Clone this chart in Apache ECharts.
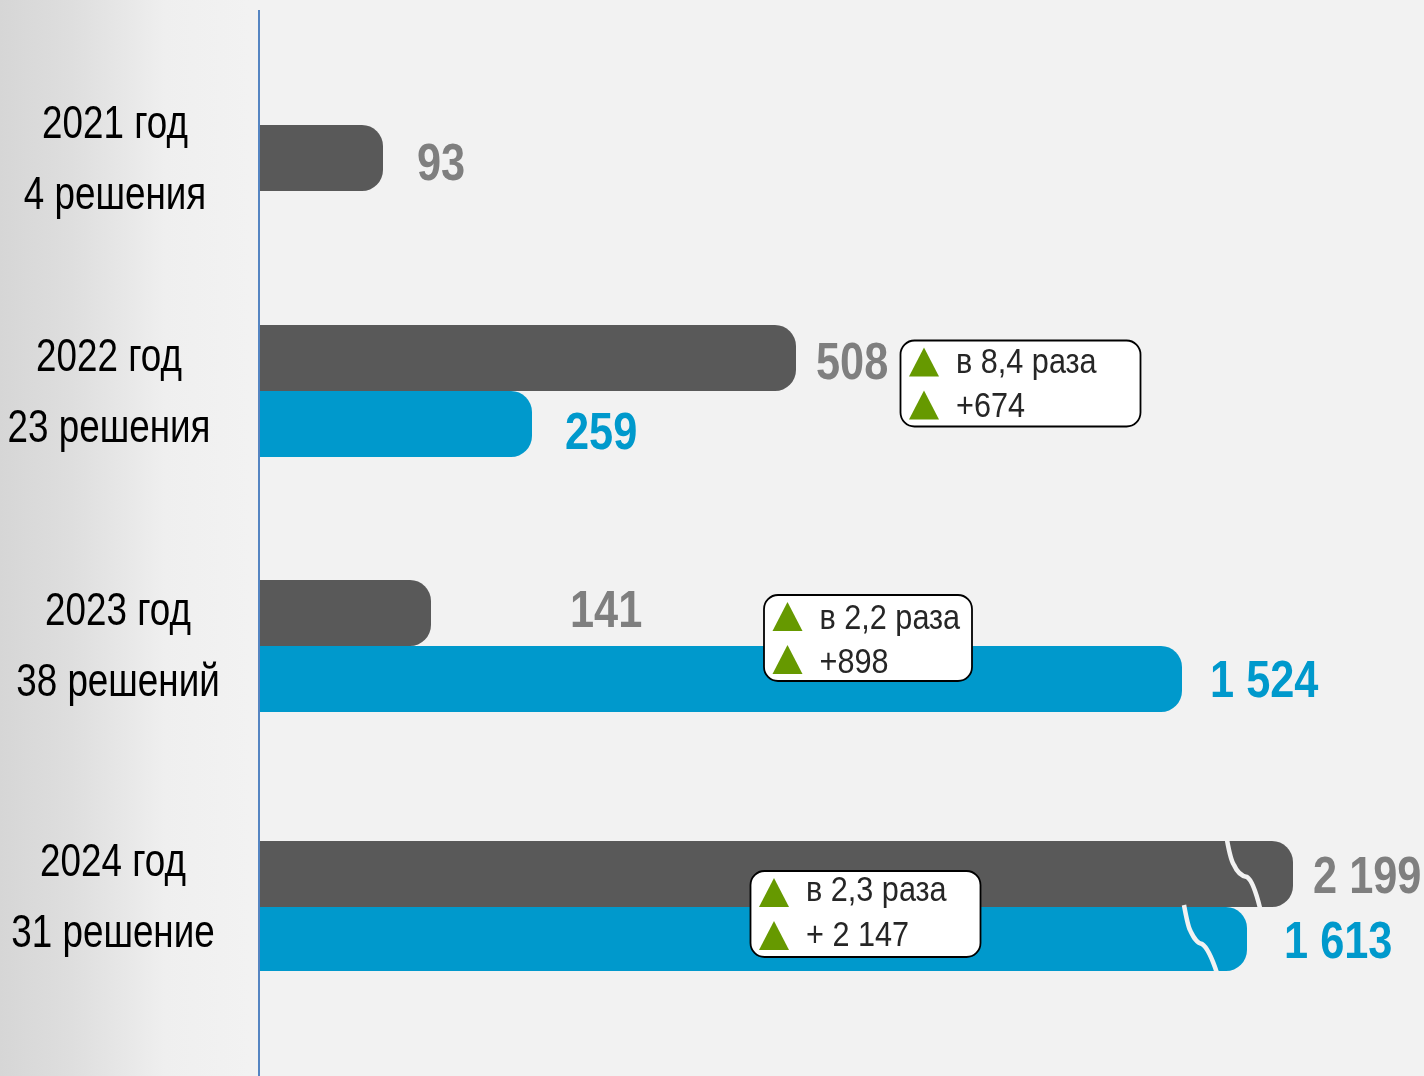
<!DOCTYPE html>
<html><head><meta charset="utf-8">
<style>html,body{margin:0;padding:0;background:#f2f2f2}#c{width:1424px;height:1076px}</style>
<script src="https://cdn.jsdelivr.net/npm/echarts@6/dist/echarts.min.js"></script>
</head><body><div id="c"></div>
<script>
// ---- data ----
const years = ['2021 год', '2022 год', '2023 год', '2024 год'];
const decisions = ['4 решения', '23 решения', '38 решений', '31 решение'];
// printed values
const grayLabels = ['93', '508', '141', '2 199'];
const blueLabels = [null, '259', '1 524', '1 613'];
// the source bars are not drawn to scale, so lengths are read from the picture
const grayLengths = [124, 537, 172, 1034];
const blueLengths = [null, 273, 923, 988];
const calloutRatio = [null, 'в 8,4 раза', 'в 2,2 раза', 'в 2,3 раза'];
const calloutDelta = [null, '+674', '+898', '+ 2 147'];

// ---- layout and style ----
const FONT = '"Liberation Sans",Arial,sans-serif';
const GRAY = '#595959', BLUE = '#0099cc', GRAYTXT = '#7f7f7f', GREEN = '#669900', BG = '#f2f2f2';
const AXIS_X = 259, AXIS_W = 1160;
const rows = [
  {top: 125, height: 66, barH: [66], cx: 115, dy: 3},
  {top: 325, height: 132, barH: [66, 66], cx: 109, dy: 3},
  {top: 580, height: 132, barH: [66, 66], cx: 118, dy: 2},
  {top: 841, height: 130, barH: [66, 64], cx: 113, dy: -7}
];
// value label anchor relative to (bar end, row centre)
const grayShift = [[34, 8], [20, -26], [139, -33], [20, -27]];
const blueShift = [null, [33, 44], [28, 37], [37, 38]];
const boxes = [null,
  {x: 900.5, y: 340.5, w: 240, h: 86, td: [2, 3]},
  {x: 764, y: 595, w: 208, h: 86, td: [3, 4]},
  {x: 750.5, y: 871, w: 230, h: 86, td: [-1, 1]}];
// wave-shaped "bar is cut" marks, relative to the row centre
const waveGray = {at: 970, d: 'M-2,-66 C0,-55 2,-45 5,-41 C8,-34 12,-30 18,-29 C23,-26 28,-10 31,2'};
const waveBlue = {at: 927, d: 'M-2,-1 C0,10 2,20 4,24 C7,30 10,37 16,38 C21,41 27,55 31,67'};

const grid = [], xAxis = [], yAxis = [], series = [];

const textSeries = (i, len, fn) => ({
  type: 'custom', xAxisIndex: i, yAxisIndex: i, silent: true, z: 6,
  data: [[len, 0]], encode: {x: 0, y: 1},
  renderItem: (p, api) => fn(api.coord([api.value(0), 0]))
});

rows.forEach((r, i) => {
  grid.push({left: AXIS_X, top: r.top, width: AXIS_W, height: r.height, outerBoundsMode: 'none', containLabel: false});
  xAxis.push({type: 'value', gridIndex: i, min: 0, max: AXIS_W, show: false});
  yAxis.push({
    type: 'category', gridIndex: i, data: [years[i]], inverse: true,
    axisLine: {show: false}, axisTick: {show: false}, axisLabel: {show: false}
  });
  const bar = (name, len, color, h) => ({
    type: 'bar', name, xAxisIndex: i, yAxisIndex: i, barWidth: h, barGap: 0, silent: true,
    data: [{value: len, itemStyle: {color, borderRadius: [0, 21, 21, 0]}}]
  });
  const valueText = (len, txt, color, shift) => textSeries(i, len, c => ({
    type: 'text', x: c[0] + shift[0], y: c[1] + shift[1], scaleX: 0.85,
    style: {text: txt, fontFamily: FONT, fontSize: 51, fontWeight: 'bold', fill: color, align: 'left', verticalAlign: 'middle'}
  }));
  series.push(bar('gray', grayLengths[i], GRAY, r.barH[0]));
  series.push(valueText(grayLengths[i], grayLabels[i], GRAYTXT, grayShift[i]));
  if (blueLengths[i] !== null) {
    series.push(bar('blue', blueLengths[i], BLUE, r.barH[1]));
    series.push(valueText(blueLengths[i], blueLabels[i], BLUE, blueShift[i]));
  }
  // category caption, two lines, left of the axis
  series.push(textSeries(i, 0, c => ({
    type: 'text', x: r.cx, y: c[1] + r.dy, scaleX: 0.8,
    style: {text: years[i] + '\n' + decisions[i], fontFamily: FONT, fontSize: 46, lineHeight: 71,
      fill: '#000', align: 'center', verticalAlign: 'middle'}
  })));
});

// break marks on the two longest bars, placed through the axis scale
[waveGray, waveBlue].forEach(w => series.push({
  type: 'custom', xAxisIndex: 3, yAxisIndex: 3, silent: true, z: 5,
  data: [[w.at, 0]], encode: {x: 0, y: 1},
  renderItem: (p, api) => {
    const c = api.coord([api.value(0), 0]);
    return {
      type: 'path', x: c[0], y: c[1],
      shape: {pathData: w.d},
      style: {fill: null, stroke: BG, lineWidth: 4.5}
    };
  }
}));

const graphic = [{
  type: 'line', z: 50, shape: {x1: 259, y1: 10, x2: 259, y2: 1076},
  style: {stroke: '#5585c2', lineWidth: 2}
}];
boxes.forEach((b, i) => {
  if (!b) return;
  graphic.push({type: 'rect', z: 60, shape: {x: b.x, y: b.y, width: b.w, height: b.h, r: 14},
    style: {fill: '#fff', stroke: '#000', lineWidth: 1.8}});
  [[7, calloutRatio[i], b.td[0]], [50, calloutDelta[i], b.td[1]]].forEach(([dy, t, td]) => {
    graphic.push({type: 'polygon', z: 61, shape: {points: [
      [b.x + 8.5, b.y + dy + 29], [b.x + 23.5, b.y + dy], [b.x + 38.5, b.y + dy + 29]]},
      style: {fill: GREEN}});
    graphic.push({type: 'text', z: 62, x: b.x + 55.5, y: b.y + dy + 14 + td, scaleX: 0.875,
      style: {text: t, fontFamily: FONT, fontSize: 35, fill: '#262626', verticalAlign: 'middle', align: 'left'}});
  });
});

const chart = echarts.init(document.getElementById('c'), null, {renderer: 'canvas', width: 1424, height: 1076});
chart.setOption({
  animation: false,
  backgroundColor: {type: 'linear', x: 0, y: 0, x2: 1, y2: 0, colorStops: [
    {offset: 0, color: '#d6d6d6'}, {offset: 0.05, color: '#dedede'}, {offset: 0.09, color: '#e8e8e8'},
    {offset: 0.116, color: '#efefef'}, {offset: 0.175, color: BG}, {offset: 1, color: BG}]},
  grid, xAxis, yAxis, series, graphic
});
</script></body></html>
